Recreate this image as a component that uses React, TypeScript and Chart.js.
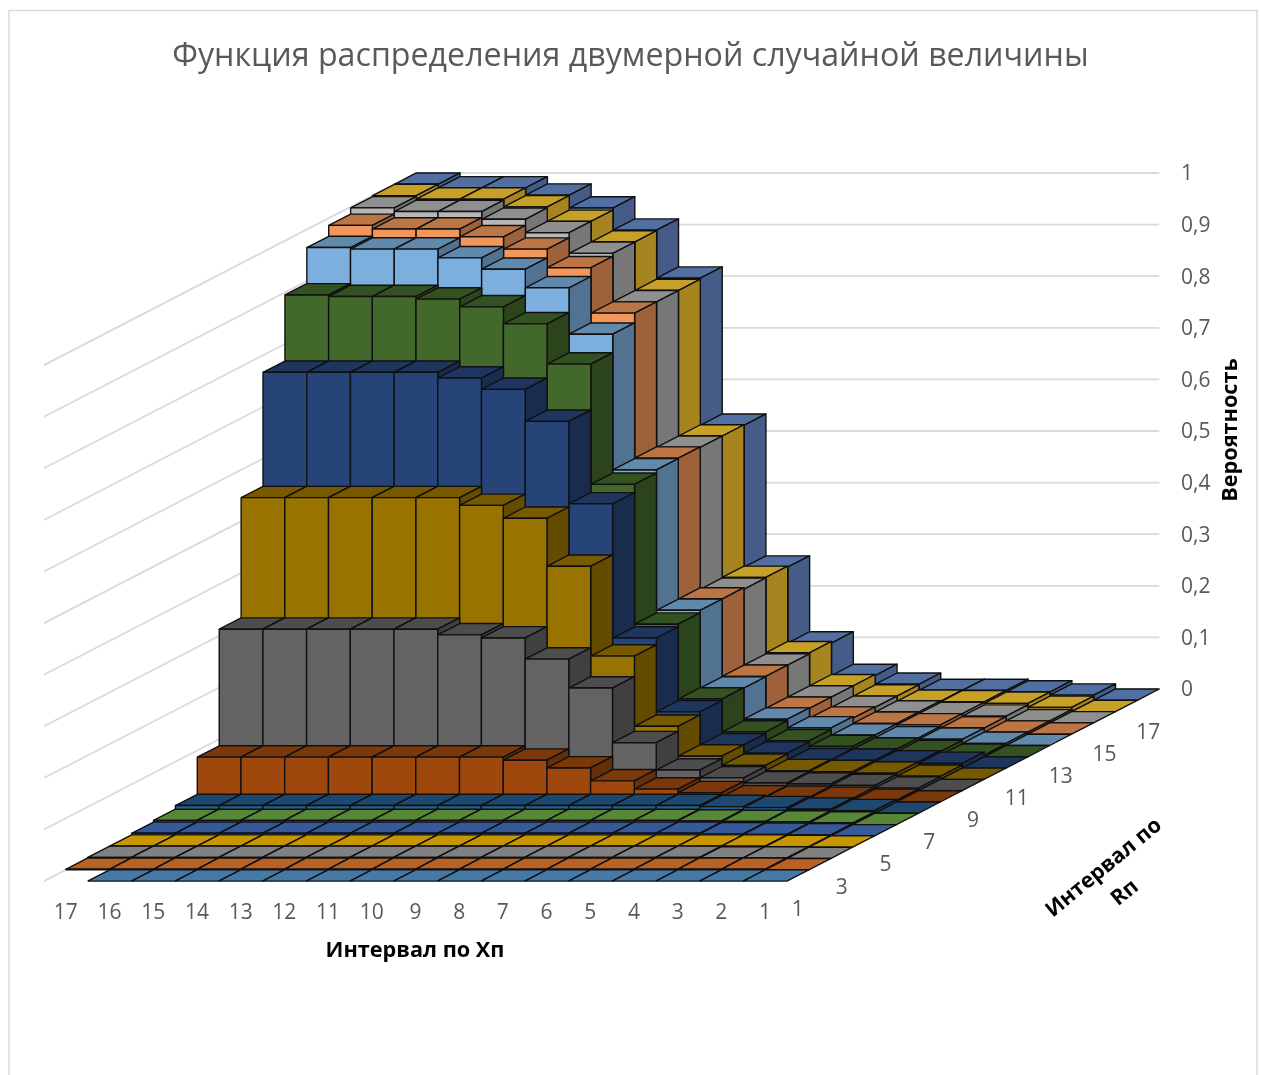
import React, { useEffect, useRef } from "react";
import { Chart, registerables } from "chart.js";

Chart.register(...registerables);

const xLabels = ["17","16","15","14","13","12","11","10","9","8","7","6","5","4","3","2","1"];
const rLabels = ["1","3","5","7","9","11","13","15","17"];
const probTicks = [0,0.1,0.2,0.3,0.4,0.5,0.6,0.7,0.8,0.9,1];

// each row: X = 17 ... X = 1
const r01 = [null,0,0,0,0,0,0,0,0,0,0,0,0,0,0,0,0];
const r02 = [.001,.001,.001,.001,.001,.001,.001,.001,.001,.001,.001,.001,.001,.001,.001,.001,0];
const r03 = [.002,.002,.002,.002,.002,.002,.002,.002,.002,.002,.002,.002,.002,.002,.001,.001,0];
const r04 = [.002,.002,.002,.002,.002,.002,.002,.002,.002,.002,.002,.002,.002,.002,.002,.001,0];
const r05 = [.005,.005,.005,.005,.005,.005,.005,.005,.005,.005,.005,.005,.005,.004,.003,.002,0];
const r06 = [.008,.008,.008,.008,.008,.008,.008,.008,.008,.008,.008,.008,.007,.006,.005,.003,0];
const r07 = [.015,.015,.015,.015,.015,.015,.015,.015,.015,.015,.015,.015,.013,.011,.008,.005,0];
const r08 = [.087,.087,.087,.087,.087,.087,.087,.081,.066,.041,.025,.018,.01,.009,.007,.003,0];
const r09 = [.313,.313,.313,.313,.313,.302,.296,.255,.199,.093,.04,.025,.015,.013,.01,.005,0];
const r10 = [.546,.546,.546,.546,.546,.531,.506,.413,.239,.103,.045,.027,.017,.015,.012,.006,0];
const r11 = [.767,.767,.767,.767,.756,.734,.672,.512,.252,.109,.045,.029,.016,.015,.012,.009,0];
const r12 = [.895,.892,.892,.887,.872,.839,.761,.528,.257,.112,.048,.031,.02,.015,.01,.003,0];
const r13 = [.965,.962,.962,.945,.923,.887,.797,.534,.262,.111,.051,.034,.02,.015,.012,.004,0];
const r14 = [.986,.979,.979,.964,.94,.904,.816,.535,.262,.112,.05,.031,.021,.018,.012,.004,0];
const r15 = [.998,.991,.991,.976,.95,.91,.816,.534,.259,.112,.05,.03,.021,.018,.013,.004,0];
const r16 = [1,.993,.993,.978,.95,.91,.816,.534,.26,.114,.05,.03,.02,.019,.016,.008,0];
const r17 = [1,.993,.993,.979,.954,.911,.818,.533,.258,.111,.048,.031,.019,.019,.016,.01,0];

const rows = [r01,r02,r03,r04,r05,r06,r07,r08,r09,r10,r11,r12,r13,r14,r15,r16,r17];
const rowColors = ["#5B9BD5","#ED7D31","#A5A5A5","#FFC000","#4472C4","#70AD47","#255E91","#9E480E","#636363","#997300","#264478","#43682B","#7CAFDD","#F1975A","#B7B7B7","#FFCD33","#698ED0"];

const COLS = 17, ROWS = 17;
const DEPTH_X = 0.5012;
const DEPTH_Y = 0.0219;
const project = (c: number, r: number, v: number) => ({ x: c + r * DEPTH_X, y: v - (ROWS - r) * DEPTH_Y });

const shade = (hex: string, f: number) => {
  const n = parseInt(hex.slice(1), 16);
  const ch = (s: number) => Math.round(((n >> s) & 255) * f);
  return `rgb(${ch(16)},${ch(8)},${ch(0)})`;
};

const face = (pts: { x: number; y: number }[], fill: string) => ({
  type: "scatter",
  data: [...pts, pts[0]],
  showLine: true,
  fill: "shape",
  backgroundColor: fill,
  borderColor: "#101010",
  borderWidth: 1.4,
  borderJoinStyle: "round",
  pointRadius: 0,
  pointHoverRadius: 0,
  tension: 0,
});

function buildDatasets() {
  const out: any[] = [];
  for (const v of probTicks) {
    out.push({
      type: "scatter",
      data: [project(0, 0, v), project(0, ROWS, v), project(COLS, ROWS, v)],
      showLine: true,
      fill: false,
      borderColor: "#DADADA",
      borderWidth: 1.8,
      pointRadius: 0,
      tension: 0,
    });
  }
  for (let r = ROWS - 1; r >= 0; r--) {
    const base = rowColors[r];
    for (let c = 0; c < COLS; c++) {
      const v = rows[r][c];
      if (v === null) continue;
      out.push(face([project(c, r, v), project(c + 1, r, v), project(c + 1, r + 1, v), project(c, r + 1, v)], shade(base, 0.78)));
      if (v > 0) {
        out.push(face([project(c + 1, r, 0), project(c + 1, r + 1, 0), project(c + 1, r + 1, v), project(c + 1, r, v)], shade(base, 0.65)));
        out.push(face([project(c, r, 0), project(c + 1, r, 0), project(c + 1, r, v), project(c, r, v)], base));
      }
    }
  }
  return out.reverse();
}

const FONT = "'Open Sans'";
const GREY = "#595959";

const textPlugin = {
  id: "axisText",
  beforeDraw(chart: any) {
    const { ctx, width, height, scales, chartArea } = chart;
    ctx.save();
    ctx.fillStyle = "#fff";
    ctx.fillRect(0, 0, width, height);
    ctx.strokeStyle = "#D9D9D9";
    ctx.lineWidth = 1.5;
    ctx.strokeRect(9, 10.5, 1248, 1075);
    ctx.restore();
    scales.y.getLabelItems(chartArea).forEach((item: any) => { item.textOffset = 1.5; });
  },
  afterDraw(chart: any) {
    const { ctx, scales } = chart;
    ctx.save();
    ctx.textAlign = "center";
    ctx.textBaseline = "middle";
    ctx.fillStyle = GREY;
    ctx.font = `21px ${FONT}`;
    rLabels.forEach((t) => {
      const r = Number(t) - 0.5;
      const p = project(COLS, r, -0.066 - r * 0.0005);
      ctx.fillText(t, scales.x.getPixelForValue(p.x), scales.y.getPixelForValue(p.y));
    });
    ctx.fillStyle = "#000";
    ctx.font = `bold 21.7px ${FONT}`;
    ctx.fillText("Интервал по Хп", 415, 951);
    ctx.save();
    ctx.translate(1231, 430);
    ctx.rotate(-Math.PI / 2);
    ctx.fillText("Вероятность", 0, 0);
    ctx.restore();
    ctx.font = `bold 21.4px ${FONT}`;
    ctx.save();
    ctx.translate(1104, 868);
    ctx.rotate((-39.4 * Math.PI) / 180);
    ctx.fillText("Интервал по", 0, 0);
    ctx.restore();
    ctx.save();
    ctx.translate(1125, 893);
    ctx.rotate((-39.4 * Math.PI) / 180);
    ctx.fillText("Rп", 0, 0);
    ctx.restore();
    ctx.restore();
  },
};

export default function App() {
  const ref = useRef<HTMLCanvasElement | null>(null);
  useEffect(() => {
    const chart = new Chart(ref.current as any, {
      type: "scatter",
      data: { datasets: buildDatasets() },
      plugins: [textPlugin],
      options: {
        animation: false,
        responsive: false,
        events: [],
        layout: { padding: { left: 44, right: 44, top: 0, bottom: 119.6 } },
        plugins: {
          legend: { display: false },
          tooltip: { enabled: false },
          title: {
            display: true,
            text: "Функция распределения двумерной случайной величины",
            color: GREY,
            font: { family: FONT, size: 32.2, weight: "normal", lineHeight: 1.2 },
            padding: { top: 37.5, bottom: 55.57 },
          },
        },
        scales: {
          x: {
            type: "linear",
            min: 0,
            max: 25.744,
            grid: { display: false, drawTicks: false },
            border: { display: false },
            afterFit: (s: any) => { s.height = 60; },
            afterBuildTicks: (s: any) => { s.ticks = xLabels.map((_, i) => ({ value: i + 0.5 })); },
            ticks: {
              autoSkip: false,
              maxRotation: 0,
              padding: 5,
              color: GREY,
              font: { family: FONT, size: 21 },
              callback: (v: any) => xLabels[Math.floor(Number(v))],
            },
          },
          y: {
            type: "linear",
            position: "right",
            min: -0.4,
            max: 1.08,
            grid: { display: false, drawTicks: false },
            border: { display: false },
            afterFit: (s: any) => { s.width = 48; },
            afterBuildTicks: (s: any) => { s.ticks = probTicks.map((v) => ({ value: v })); },
            ticks: {
              autoSkip: false,
              padding: 12,
              color: GREY,
              font: { family: FONT, size: 21 },
              callback: (v: any) => String(v).replace(".", ","),
            },
          },
        },
      },
    } as any);
    return () => chart.destroy();
  }, []);
  return (
    <canvas
      ref={ref}
      width={1261}
      height={1075}
      style={{ position: "absolute", left: 0, top: 0, display: "block" }}
    />
  );
}
